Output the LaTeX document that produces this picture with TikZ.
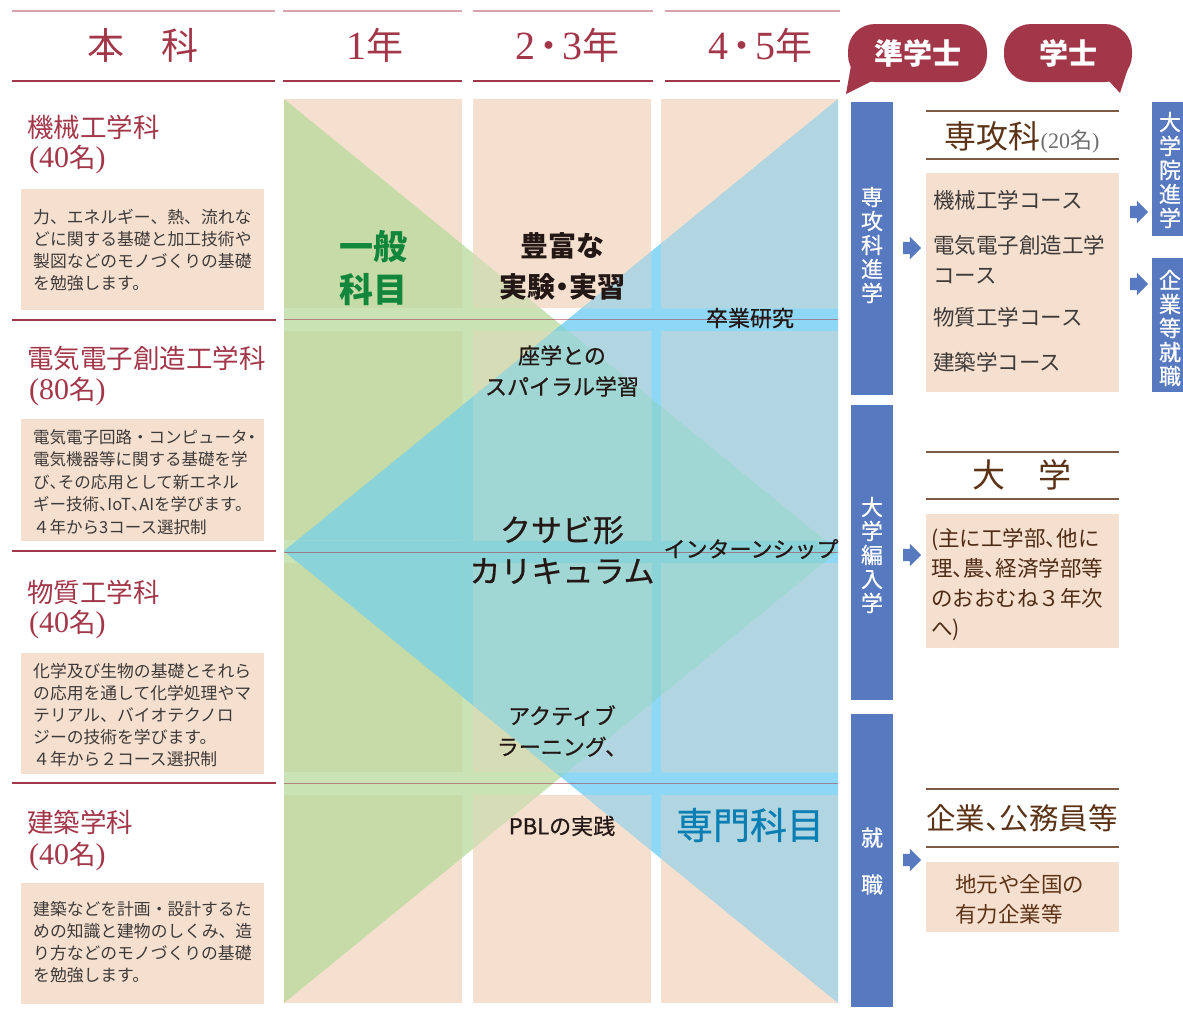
\documentclass[tikz,border=0pt]{standalone}
\usepackage{fontspec}
\setmainfont{Liberation Serif}
\newfontfamily\jp{Noto Sans CJK JP}
\newfontfamily\jpm[FakeBold=0.6]{Noto Sans CJK JP}
\newfontfamily\jph[RawFeature=+halt]{Noto Sans CJK JP}
\usetikzlibrary{shapes.arrows}
\newcommand\hc[1]{{\jph #1}}
\newcommand\dnum[2]{{\rmfamily\fontsize{#1}{#1}\selectfont #2}}
\newcommand\hdot{\hspace{-5pt}・\hspace{-5pt}}
\definecolor{hred}{HTML}{A3374A}
\definecolor{hpink}{HTML}{D9A3AD}
\definecolor{peach}{HTML}{F5E0CF}
\definecolor{txt}{HTML}{3E3A39}
\definecolor{dk}{HTML}{231815}
\definecolor{ggreen}{HTML}{C9E3B5}
\definecolor{rgreenA}{HTML}{C7DBA8}
\definecolor{rgreenB}{HTML}{D6DCB5}
\definecolor{gblue}{HTML}{8FD8F5}
\definecolor{rblue}{HTML}{B1D6E1}
\definecolor{gteal}{HTML}{8AD3D8}
\definecolor{rteal}{HTML}{A0D6D3}
\definecolor{barblue}{HTML}{5779BF}
\definecolor{brn}{HTML}{5C3317}
\definecolor{brnline}{HTML}{7B5B43}
\definecolor{kgreen}{HTML}{12873C}
\definecolor{kblue}{HTML}{0B7EB3}
\definecolor{gry}{HTML}{6E6E6E}
\tikzset{
  hdr/.style={font=\jp\fontsize{37}{40}\selectfont, text=hred, inner sep=0},
  bub/.style={font=\jp\bfseries\fontsize{29}{32}\selectfont, text=white, inner sep=0},
  dept/.style={anchor=west, font=\jp\fontsize{26.5}{30}\selectfont, text=hred, inner sep=0},
  desc/.style={anchor=west, align=left, font=\jp\fontsize{16.8}{22}\selectfont, text=txt, inner sep=0},
  descbox/.style={fill=peach},
  mid/.style={align=center, font=\jpm\fontsize{22}{31}\selectfont, text=dk, inner sep=0},
  vtxt/.style={align=center, font=\jpm\fontsize{22}{24}\selectfont, text=white, inner sep=0},
  fatarrow/.style={single arrow, fill=barblue, draw=none, minimum height=18pt, single arrow head extend=5pt, inner sep=0pt},
  rhead/.style={font=\jp\fontsize{32}{36}\selectfont, text=brn, inner sep=0},
  course/.style={anchor=west, align=left, font=\jp\fontsize{21.5}{30}\selectfont, text=txt, inner sep=0},
  rline/.style={brnline, line width=1.5pt},
  sep/.style={hred, line width=1.3pt},
}
\begin{document}
\begin{tikzpicture}[x=1pt,y=-1pt]
\useasboundingbox (0,0) rectangle (1183,1023);
\fill[white] (0,0) rectangle (1183,1023);

% ---------- header ----------
\foreach \a/\b in {12/275,283/462,473/653,665/840}{
  \draw[hpink,line width=1.5pt] (\a,11) -- (\b,11);
  \draw[hred,line width=1.5pt] (\a,81) -- (\b,81);
}
\node[hdr] (hk) at (143,45) {本　科};
\node[hdr] (h1) at (375,45) {\dnum{40}{1}年};
\node[hdr] (h23) at (567,45) {\dnum{40}{2}\hdot\dnum{40}{3}年};
\node[hdr] (h45) at (760,45) {\dnum{40}{4}\hdot\dnum{40}{5}年};

% speech bubbles
\fill[hred,rounded corners=27pt] (848,24) rectangle (987,82);
\fill[hred] (852,60) -- (846,94) -- (872,81) -- cycle;
\node[bub] (b1) at (918,53) {準学士};
\fill[hred,rounded corners=27pt] (1004,24) rectangle (1132,82);
\fill[hred] (1108,80) -- (1120,93) -- (1130,62) -- cycle;
\node[bub] (b2) at (1068,53) {学士};

% ---------- left column ----------
\foreach \yy in {320,551,783}{ \draw[sep] (12,\yy) -- (276,\yy); }

\node[dept] (d1) at (27,127) {機械工学科};
\node[dept] (d1n) at (29,160) {\dnum{30}{(40}名\dnum{30}{)}};
\fill[descbox] (21,189) rectangle (264,310);
\node[desc] (t1) at (33,250.5) {力、エネルギー、熱、流れな\\どに関する基礎と加工技術や\\製図などのモノづくりの基礎\\を勉強します。};

\node[dept] (d2) at (27,358) {電気電子創造工学科};
\node[dept] (d2n) at (29,392) {\dnum{30}{(80}名\dnum{30}{)}};
\fill[descbox] (21,419) rectangle (264,541);
\node[desc, font=\jp\fontsize{16.5}{22.4}\selectfont] (t2) at (33,482) {電気電子回路・コンピュータ\hc{・}\\電気機器等に関する基礎を学\\び\hc{、}その応用として新エネル\\ギー技術\hc{、}IoT\hc{、}AIを学びます。\\４年から3コース選択制};

\node[dept] (d3) at (27,592) {物質工学科};
\node[dept] (d3n) at (29,625) {\dnum{30}{(40}名\dnum{30}{)}};
\fill[descbox] (21,653) rectangle (264,774);
\node[desc, font=\jp\fontsize{16.8}{21.8}\selectfont] (t3) at (33,715) {化学及び生物の基礎とそれら\\の応用を通して化学処理やマ\\テリアル、バイオテクノロ\\ジーの技術を学びます。\\４年から２コース選択制};

\node[dept] (d4) at (27,822) {建築学科};
\node[dept] (d4n) at (29,857) {\dnum{30}{(40}名\dnum{30}{)}};
\fill[descbox] (21,883) rectangle (264,1004);
\node[desc] (t4) at (33,942) {建築などを計画・設計するた\\めの知識と建物のしくみ、造\\り方などのモノづくりの基礎\\を勉強します。};

% ---------- middle region ----------
\coordinate (TL) at (284,99);
\coordinate (BL) at (284,1003);
\coordinate (TR) at (838,99);
\coordinate (BR) at (838,1003);
\coordinate (ML) at (284,551);
\coordinate (MR) at (838,551);
\coordinate (DT) at (561,325);
\coordinate (DB) at (561,777);

% gap layer
\fill[ggreen] (TL) -- (BL) -- (MR) -- cycle;
\fill[gblue] (TR) -- (BR) -- (ML) -- cycle;
\fill[gteal] (ML) -- (DT) -- (MR) -- (DB) -- cycle;

% column 1 cells
\begin{scope}
\clip foreach \yy in {99,331,563,795} {(284,\yy) rectangle ++(178,209)};
\fill[peach] (284,99) rectangle (462,1003);
\fill[rgreenA] (TL) -- (BL) -- (MR) -- cycle;
\fill[gteal] (ML) -- (DT) -- (MR) -- (DB) -- cycle;
\end{scope}
% columns 2,3 cells
\begin{scope}
\clip foreach \yy in {99,331,563,795} {(473,\yy) rectangle ++(178,209) (661,\yy) rectangle ++(177,209)};
\fill[peach] (473,99) rectangle (838,1003);
\fill[rgreenB] (TL) -- (BL) -- (MR) -- cycle;
\fill[rblue] (TR) -- (BR) -- (ML) -- cycle;
\fill[rteal] (ML) -- (DT) -- (MR) -- (DB) -- cycle;
\end{scope}

\foreach \yy in {319,552,783}{ \draw[hred,opacity=0.55,line width=1pt] (284,\yy) -- (838,\yy); }

\node[mid, font=\jp\bfseries\fontsize{34}{43}\selectfont, text=kgreen] (ippan) at (373,268) {一般\\科目};
\node[mid, font=\jp\bfseries\fontsize{28}{41}\selectfont] (hofu) at (562,266) {豊富な\\実験\hc{・}実習};
\node[mid] (sotsu) at (750,318) {卒業研究};
\node[mid] (zagaku) at (562,371) {座学との\\スパイラル学習};
\node[mid, font=\jpm\fontsize{31}{41}\selectfont] (kusabi) at (562,550) {クサビ形\\カリキュラム};
\node[mid] (intern) at (751,549) {インターンシップ};
\node[mid] (active) at (562,731) {アクティブ\\ラーニング、};
\node[mid] (pbl) at (562,826) {PBLの実践};
\node[mid, font=\jpm\fontsize{37}{40}\selectfont, text=kblue] (senmon) at (750,825) {専門科目};

% ---------- right side ----------
\fill[barblue] (851,102) rectangle (893,395);
\fill[barblue] (851,405) rectangle (893,700);
\fill[barblue] (851,714) rectangle (893,1007);
\fill[barblue] (1152,102) rectangle (1183,236);
\fill[barblue] (1152,258) rectangle (1183,392);

\node[vtxt] (v1) at (872,245) {専\\攻\\科\\進\\学};
\node[vtxt] (v2) at (872,555) {大\\学\\編\\入\\学};
\node[vtxt, font=\jpm\fontsize{22}{47}\selectfont] (v3) at (872,861) {就\\職};
\node[vtxt] (v4) at (1170,170) {大\\学\\院\\進\\学};
\node[vtxt] (v5) at (1170,328) {企\\業\\等\\就\\職};

\node[fatarrow] (a1) at (909,248) {\rule{0pt}{12pt}};
\node[fatarrow] (a2) at (909,555) {\rule{0pt}{12pt}};
\node[fatarrow] (a3) at (909,860) {\rule{0pt}{12pt}};
\node[fatarrow] (a4) at (1136,212) {\rule{0pt}{12pt}};
\node[fatarrow] (a5) at (1136,284) {\rule{0pt}{12pt}};

% 専攻科
\draw[rline] (926,111) -- (1119,111);
\draw[rline] (926,159) -- (1119,159);
\node[rhead] (sk) at (1022,137) {専攻科{\color{gry}\fontsize{22}{24}\selectfont\dnum{22}{(20}名\dnum{22}{)}}};
\fill[descbox] (926,173) rectangle (1119,392);
\node[course] (c1) at (933,200) {機械工学コース};
\node[course] (c2) at (933,260) {電気電子創造工学\\コース};
\node[course] (c3) at (933,317) {物質工学コース};
\node[course] (c4) at (933,362) {建築学コース};

% 大学
\draw[rline] (926,452) -- (1119,452);
\draw[rline] (926,499) -- (1119,499);
\node[rhead, font=\jp\fontsize{33}{36}\selectfont] (dg) at (1022,475) {大　学};
\fill[descbox] (926,514) rectangle (1119,648);
\node[course, text=brn!85!black, font=\jp\fontsize{21.5}{30}\selectfont] (dgt) at (931,585) {(主に工学部\hc{、}他に\\理\hc{、}農\hc{、}経済学部等\\のおおむね３年次\\へ)};

% 企業
\draw[rline] (926,789) -- (1119,789);
\draw[rline] (926,847) -- (1119,847);
\node[rhead, font=\jp\fontsize{29.5}{33}\selectfont] (kg) at (1022,818) {企業\hc{、}公務員等};
\fill[descbox] (926,862) rectangle (1119,932);
\node[course, text=brn] (kgt) at (955,899) {地元や全国の\\有力企業等};
\end{tikzpicture}
\end{document}
